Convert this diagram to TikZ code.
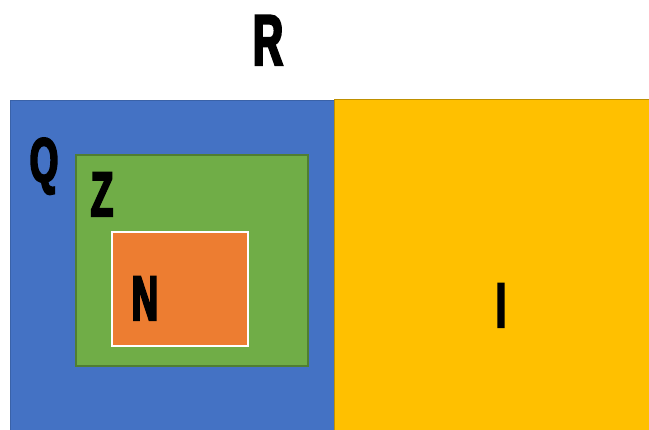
\documentclass[tikz,border=0pt]{standalone}
\usepackage{fontspec}
% Heavy, narrow display face for the region letters
\newfontfamily\labfont[FakeStretch=0.58,BoldFeatures={FakeBold=3.2}]{Liberation Sans}
\definecolor{qblue}{HTML}{4472C4}
\definecolor{qblueline}{HTML}{3A62A8}
\definecolor{iyellow}{HTML}{FFC000}
\definecolor{iyellowline}{HTML}{BF9000}
\definecolor{zgreen}{HTML}{70AD47}
\definecolor{zgreenline}{HTML}{507E32}
\definecolor{norange}{HTML}{ED7D31}
\tikzset{
  region/.style={rectangle, inner sep=0pt, outer sep=0pt, anchor=north west},
  letter/.style={inner sep=0pt, anchor=base, text=black,
    font=\labfont\bfseries\fontsize{63}{63}\selectfont},
}
\begin{document}
\begin{tikzpicture}[x=1pt,y=-1pt]
  \useasboundingbox (0,0) rectangle (649,430);
  % outer regions
  \node[region, fill=qblue, draw=qblueline, line width=0.8pt,
        minimum width=324pt, minimum height=340pt] (q) at (10,100) {};
  \node[region, fill=iyellow, draw=iyellowline, line width=1pt,
        minimum width=320pt, minimum height=340pt] (i) at (334,100) {};
  % nested regions
  \node[region, fill=zgreen, draw=zgreenline, line width=1.5pt,
        minimum width=232pt, minimum height=211pt] (z) at (76,155) {};
  \node[region, fill=norange, draw=white, line width=1.2pt,
        minimum width=136pt, minimum height=114pt] (n) at (112,232) {};
  % labels
  \node[letter, font=\labfont\bfseries\fontsize{72}{72}\selectfont] (lr) at (268,65) {R};
  \node[letter] (lq) at (44,182) {Q};
  \node[letter] (lz) at (102,216) {Z};
  \node[letter] (ln) at (145,320) {N};
  \node[letter] (li) at (501,327) {I};
\end{tikzpicture}
\end{document}
